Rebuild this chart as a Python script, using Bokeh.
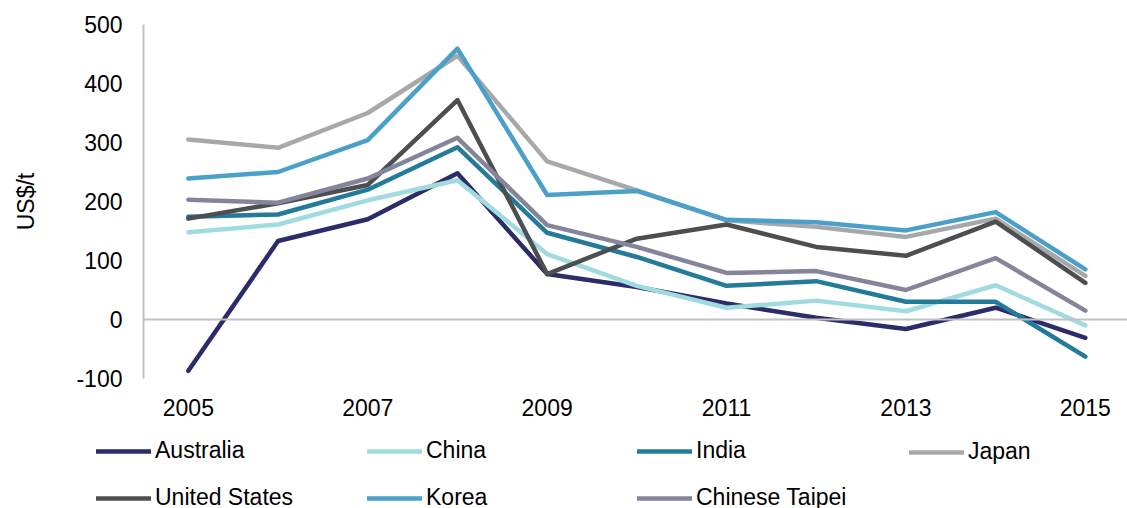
from bokeh.plotting import figure
from bokeh.models import Range1d, FixedTicker, Span, Legend, LegendItem, PrintfTickFormatter
from bokeh.embed import file_html
from bokeh.resources import INLINE

years = list(range(2005, 2016))
australia = [-87, 133, 170, 248, 77, 55, 27, 3, -16, 20, -31]
china = [148, 161, 202, 236, 111, 57, 20, 32, 14, 58, -10]
india = [174, 178, 220, 292, 147, 106, 57, 65, 30, 30, -63]
japan = [305, 291, 350, 447, 268, 219, 168, 157, 140, 171, 74]
united_states = [171, 197, 228, 372, 77, 137, 161, 123, 108, 166, 62]
korea = [239, 250, 304, 459, 211, 218, 169, 165, 151, 182, 85]
chinese_taipei = [203, 198, 239, 308, 160, 123, 79, 82, 50, 104, 15]

series_names = ["Australia", "China", "India", "Japan", "United States", "Korea", "Chinese Taipei"]
series_values = [australia, china, india, japan, united_states, korea, chinese_taipei]
colors = ["#2B2C69", "#A0DBE0", "#237A9B", "#A6A8AA", "#4D4E50", "#4AA0C9", "#84859B"]
x_ticks = [2005, 2007, 2009, 2011, 2013, 2015]
y_ticks = [-100, 0, 100, 200, 300, 400, 500]

FONT = "Liberation Sans"
FS = "23px"
W = 1127
MAIN_H = 424
LEG_H = 508 - MAIN_H

p = figure(width=W, height=MAIN_H, output_backend="svg", toolbar_location=None,
           x_range=Range1d(2004.5, 2015.47), y_range=Range1d(-100, 500),
           min_border_left=143, min_border_right=0, min_border_top=24,
           min_border_bottom=MAIN_H - 378)
p.outline_line_color = None
p.grid.visible = False
p.background_fill_color = "white"
p.border_fill_color = "white"

xa = p.xaxis[0]
xa.ticker = FixedTicker(ticks=x_ticks)
xa.formatter = PrintfTickFormatter(format="%d")
xa.axis_line_color = None
xa.major_tick_line_color = None
xa.minor_tick_line_color = None
xa.major_tick_out = 0
xa.major_tick_in = 0
xa.minor_tick_out = 0
xa.major_label_standoff = 20
xa.major_label_text_font = FONT
xa.major_label_text_font_size = FS
xa.major_label_text_color = "#000000"

ya = p.yaxis[0]
ya.ticker = FixedTicker(ticks=y_ticks)
ya.formatter = PrintfTickFormatter(format="%d")
ya.axis_line_color = "#BFC1C4"
ya.axis_line_width = 2
ya.major_tick_line_color = None
ya.minor_tick_line_color = None
ya.major_tick_out = 0
ya.major_tick_in = 0
ya.minor_tick_out = 0
ya.major_label_standoff = 21
ya.major_label_text_font = FONT
ya.major_label_text_font_size = FS
ya.major_label_text_color = "#000000"
ya.axis_label = "US$/t"
ya.axis_label_text_font = FONT
ya.axis_label_text_font_size = FS
ya.axis_label_text_font_style = "normal"
ya.axis_label_text_color = "#000000"
ya.axis_label_standoff = 34

p.add_layout(Span(location=0, dimension="width", line_color="#BFC1C4", line_width=2))

for name, vals, col in zip(series_names, series_values, colors):
    p.line(years, vals, line_color=col, line_width=4.5, line_join="round", line_cap="round")

# legend strip below the chart (its own plot, so the legend is not clipped by the chart frame)
lp = figure(width=W, height=LEG_H, output_backend="svg", toolbar_location=None,
            x_range=Range1d(0, W), y_range=Range1d(0, LEG_H),
            x_axis_location=None, y_axis_location=None,
            min_border=0, min_border_left=0, min_border_right=0,
            min_border_top=0, min_border_bottom=0)
lp.outline_line_color = None
lp.grid.visible = False
lp.background_fill_color = "white"
lp.border_fill_color = "white"

# series drawn again here only to feed the legend swatches (they fall outside this strip's ranges)
legend_renderers = [lp.line(years, vals, line_color=col, line_width=4.5, line_cap="round")
                    for vals, col in zip(series_values, colors)]

columns_idx = [[0, 4], [1, 5], [2, 6], [3]]
col_x = [96, 367, 637, 909]
item_h = 26
spacing = 20
top = 452 - MAIN_H - item_h / 2
for idxs, cx in zip(columns_idx, col_x):
    items = [LegendItem(label=series_names[i], renderers=[legend_renderers[i]]) for i in idxs]
    n = len(idxs)
    h = n * item_h + (n - 1) * spacing
    bottom = top + h
    lg = Legend(items=items, location=(cx, LEG_H - bottom), orientation="vertical",
                glyph_width=55, glyph_height=item_h, label_height=item_h,
                label_standoff=4, spacing=spacing, padding=0, margin=0,
                border_line_color=None, background_fill_alpha=0,
                label_text_font=FONT, label_text_font_size=FS,
                label_text_color="#000000")
    lp.add_layout(lg, "center")

open("out.html", "w").write(file_html([p, lp], INLINE))
